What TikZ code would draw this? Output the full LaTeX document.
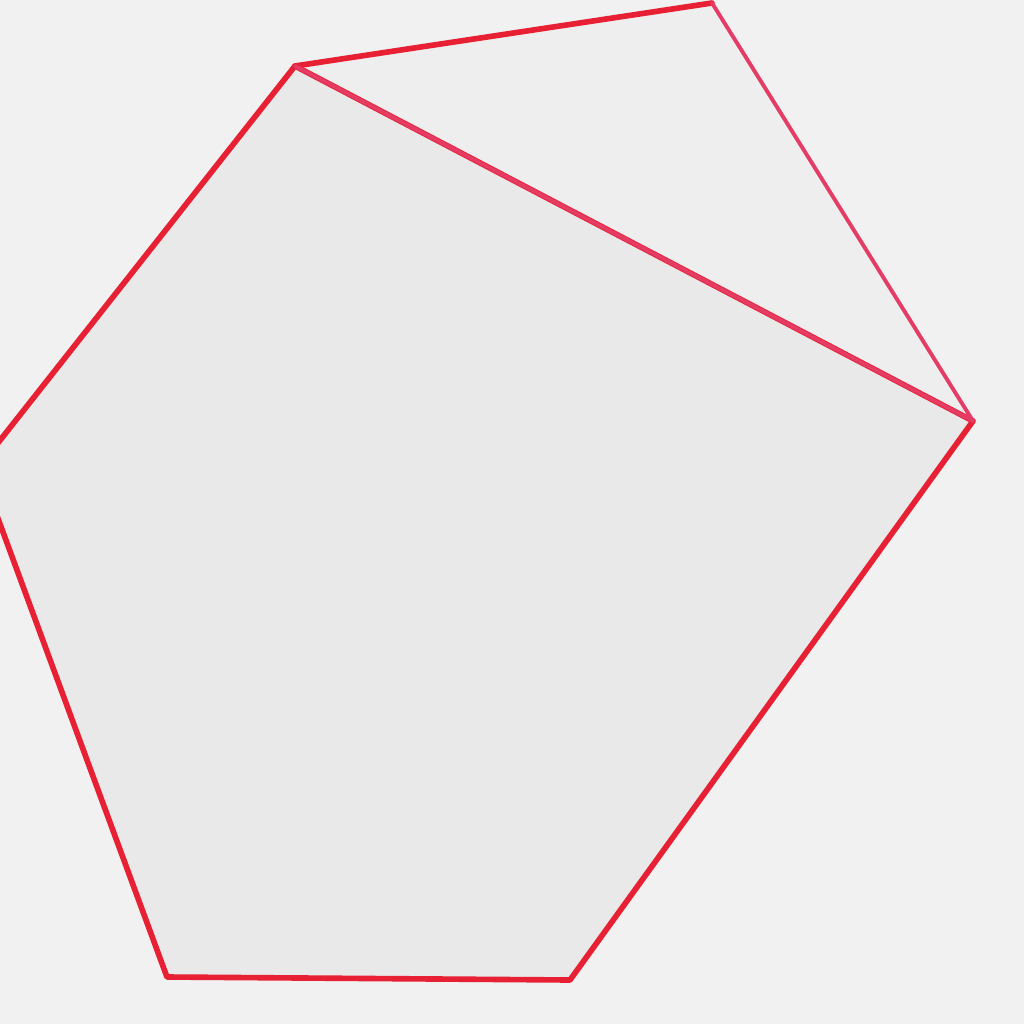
\documentclass[tikz,border=0pt]{standalone}
\usetikzlibrary{calc}
\definecolor{bg}{RGB}{241,241,241}
\definecolor{inner}{RGB}{233,233,233}
\definecolor{redline}{RGB}{232,32,52}
\definecolor{pinkline}{RGB}{228,60,100}
\tikzset{
  edgethick/.style={draw=redline, line width=1.6pt, line join=round, line cap=round},
  edgethin/.style={draw=pinkline, line width=1.1pt, line join=round, line cap=round}
}
\begin{document}
\begin{tikzpicture}[x=0.01cm,y=-0.01cm]
\useasboundingbox (0,0) rectangle (1024,1024);
\clip (0,0) rectangle (1024,1024);
\fill[bg] (0,0) rectangle (1024,1024);
\coordinate (A) at (295,66);
\coordinate (L) at (-21,467);
\coordinate (B) at (167,977);
\coordinate (C) at (570,980);
\coordinate (D) at (973,421);
\coordinate (T) at (712,3);
\fill[inner] (A) -- (L) -- (B) -- (C) -- (D) -- cycle;
\fill[bg!60!inner] (A) -- (T) -- (D) -- cycle;
\draw[edgethick] (D) -- (A) -- (L) -- (B) -- (C) -- (D);
\draw[edgethick] (A) -- (T);
\draw[edgethin] (T) -- (D);
\draw[edgethin] (A) -- (D);
\end{tikzpicture}
\end{document}
